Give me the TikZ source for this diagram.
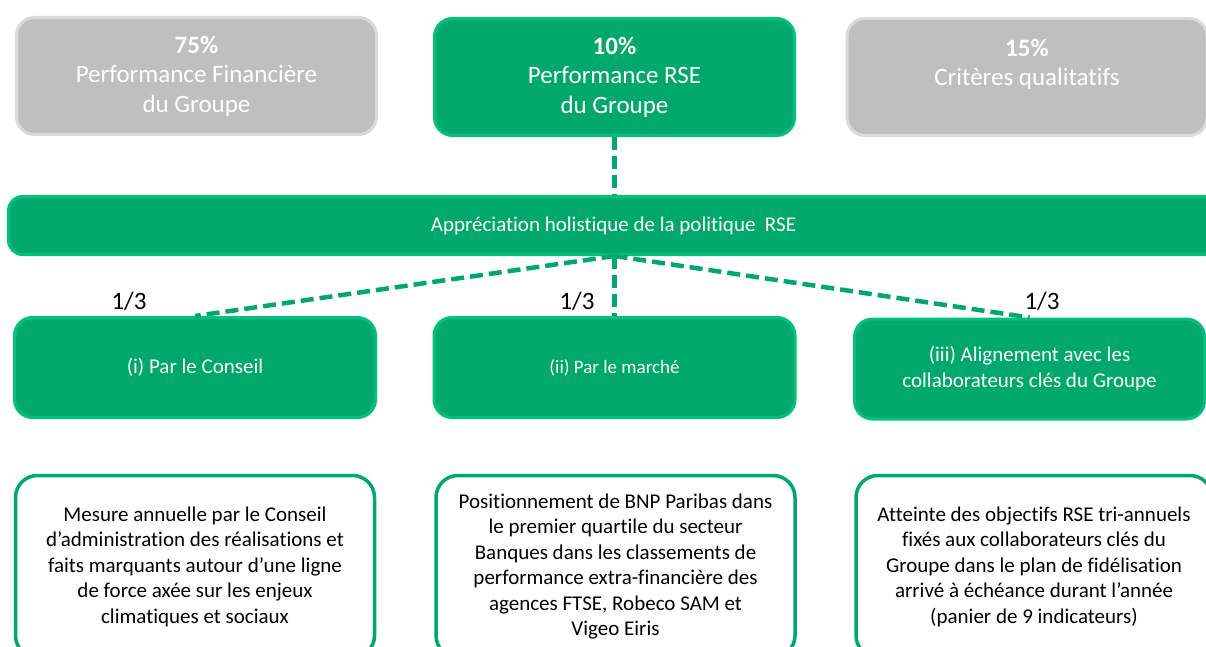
\documentclass[tikz,border=0pt]{standalone}
\usepackage{fontspec}
\setmainfont[Ligatures=NoCommon]{Carlito}
\definecolor{rsegreen}{HTML}{00A86E}
\definecolor{rsegreenrim}{HTML}{00C27E}
\definecolor{rsegrey}{HTML}{BFBFBF}
\definecolor{rsegreyrim}{HTML}{DADADA}
\begin{document}
\begin{tikzpicture}[x=1pt, y=-1pt,
  box/.style={rounded corners=18pt, line width=3pt, align=center, text=white, inner sep=0pt},
  headbox/.style={box, minimum width=360pt, minimum height=117pt, font=\fontsize{25}{29.5}\selectfont},
  greenhead/.style={headbox, fill=rsegreen, draw=rsegreenrim},
  greyhead/.style={headbox, fill=rsegrey, draw=rsegreyrim},
  barbox/.style={box, rounded corners=14pt, fill=rsegreen, draw=rsegreenrim, minimum width=1210pt, minimum height=58pt, font=\fontsize{21}{25}\selectfont},
  waybox/.style={box, fill=rsegreen, draw=rsegreenrim, minimum width=361pt, minimum height=100pt, font=\fontsize{21}{26}\selectfont},
  descbox/.style={box, rounded corners=22pt, line width=3.5pt, draw=rsegreen, fill=white, text=black, minimum width=359pt, minimum height=182pt, font=\fontsize{21}{25.5}\selectfont},
  link/.style={rsegreen, line width=4.5pt, dash pattern=on 13pt off 6pt},
  share/.style={font=\fontsize{25}{29}\selectfont, inner sep=0pt}]
\useasboundingbox (0,0) rectangle (1206,647);
\clip (0,0) rectangle (1206,647);
% weights
\node[greyhead] (top1) at (196.5,76) {\textbf{75\%}\\Performance Financière\\du Groupe};
\node[greenhead] (top2) at (614.5,77) {\textbf{10\%}\\Performance RSE\\du Groupe};
\node[greyhead] (top3) at (1027,77) {\textbf{15\%}\\Critères qualitatifs\\\mbox{}};
% holistic view
\node[barbox] (bar) at (613.5,225.5) {Appréciation holistique de la politique~ RSE};
\draw[link] (top2.south) -- (top2.south |- bar.north);
\coordinate (hub) at (bar.south -| top2.south);
% the three ways
\node[waybox] (way1) at (195,367.5) {(i) Par le Conseil};
\node[waybox, font=\fontsize{19}{24}\selectfont] (way2) at (614.5,367.5) {(ii) Par le marché};
\node[waybox, minimum width=350pt] (way3) at (1029.5,369) {(iii) Alignement avec les\\collaborateurs clés du Groupe};
\draw[link] (hub) -- (way1.north);
\draw[link] (hub) -- (way2.north);
\draw[link] (hub) -- (way3.north);
\node[share] (share1) at (129,301) {1/3};
\node[share] (share2) at (577,301) {1/3};
\node[share] (share3) at (1042,301) {1/3};
% details
\node[descbox, anchor=north] (desc1) at (195,473.75) {Mesure annuelle par le Conseil\\d’administration des réalisations et\\faits marquants autour d’une ligne\\de force axée sur les enjeux\\climatiques et sociaux};
\node[descbox, anchor=north] (desc2) at (615.5,473.75) {Positionnement de BNP Paribas dans\\le premier quartile du secteur\\Banques dans les classements de\\performance extra-financière des\\agences FTSE, Robeco SAM et\\Vigeo Eiris};
\node[descbox, anchor=north, minimum width=356pt] (desc3) at (1034,473.75) {Atteinte des objectifs RSE tri-annuels\\fixés aux collaborateurs clés du\\Groupe dans le plan de fidélisation\\arrivé à échéance durant l’année\\(panier de 9 indicateurs)};
\end{tikzpicture}
\end{document}
